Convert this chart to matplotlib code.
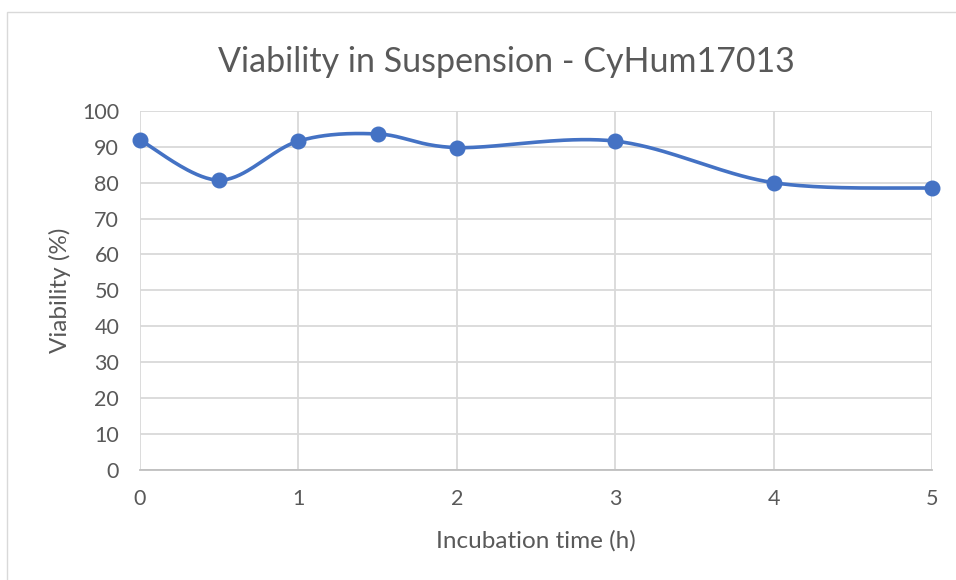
import numpy as np
import matplotlib
matplotlib.use("Agg")
import matplotlib.pyplot as plt
from matplotlib.patches import Rectangle

# Data
time_h = [0, 0.5, 1, 1.5, 2, 3, 4, 5]
viability = [91.9, 80.7, 91.6, 93.6, 89.8, 91.6, 80.0, 78.5]
x_ticks = [0, 1, 2, 3, 4, 5]
y_ticks = [0, 10, 20, 30, 40, 50, 60, 70, 80, 90, 100]

title = "Viability in Suspension - CyHum17013"
x_label = "Incubation time (h)"
y_label = "Viability (%)"

FONT = ["Lato", "DejaVu Sans"]
TXT = "#595959"
LINE = "#4472C4"
GRID = "#D9D9D9"

W, H = 956, 580
fig = plt.figure(figsize=(W / 100, H / 100), dpi=100)
fig.patch.set_facecolor("white")

# chart border
fig.patches.append(Rectangle((7 / W, 0 - 0.05), 1.2, 1 - 12 / H + 0.05,
                             transform=fig.transFigure, fill=False,
                             edgecolor="#D9D9D9", linewidth=1.0))

ax = fig.add_axes([140 / W, 1 - 469.5 / H, (932 - 140) / W, (469.5 - 111) / H])


def smooth(xs, ys, n=40):
    """Excel-like smoothed line: Catmull-Rom Bezier through the points."""
    P = np.column_stack([xs, ys]).astype(float)
    out = []
    for i in range(len(P) - 1):
        p0 = P[i - 1] if i > 0 else P[i]
        p1 = P[i]
        p2 = P[i + 1]
        p3 = P[i + 2] if i + 2 < len(P) else P[i + 1]
        c1 = p1 + (p2 - p0) / 6.0
        c2 = p2 - (p3 - p1) / 6.0
        t = np.linspace(0, 1, n)[:, None]
        seg = ((1 - t) ** 3) * p1 + 3 * ((1 - t) ** 2) * t * c1 + 3 * (1 - t) * t ** 2 * c2 + t ** 3 * p2
        out.append(seg if i == 0 else seg[1:])
    return np.vstack(out)


curve = smooth(time_h, viability)
ax.plot(curve[:, 0], curve[:, 1], color=LINE, linewidth=2.6, solid_capstyle="round", zorder=3)
ax.plot(time_h, viability, linestyle="none", marker="o", markersize=10.5,
        color=LINE, zorder=4, clip_on=False)

ax.set_xlim(0, 5)
ax.set_ylim(0, 100)
ax.set_xticks(x_ticks)
ax.set_yticks(y_ticks)
ax.grid(True, color=GRID, linewidth=1.3, zorder=0)
ax.set_axisbelow(True)
for s in ["top", "right", "left"]:
    ax.spines[s].set_visible(False)
ax.spines["bottom"].set_color("#BFBFBF")
ax.spines["bottom"].set_linewidth(1.3)
ax.tick_params(length=0, labelcolor=TXT, labelsize=15.5)
ax.tick_params(axis="y", pad=15)
ax.tick_params(axis="x", pad=14)
for lab in ax.get_xticklabels() + ax.get_yticklabels():
    lab.set_family(FONT)

fig.text(506 / W, 1 - 62 / H, title, ha="center", va="center", color=TXT,
         fontsize=24.5, family=FONT)
fig.text(536 / W, 1 - 541 / H, x_label, ha="center", va="center", color=TXT,
         fontsize=17.5, family=FONT)
fig.text(60 / W, 1 - 290 / H, y_label, ha="center", va="center", color=TXT,
         fontsize=17.5, family=FONT, rotation=90)

fig.savefig("out.png", dpi=100, facecolor="white")
